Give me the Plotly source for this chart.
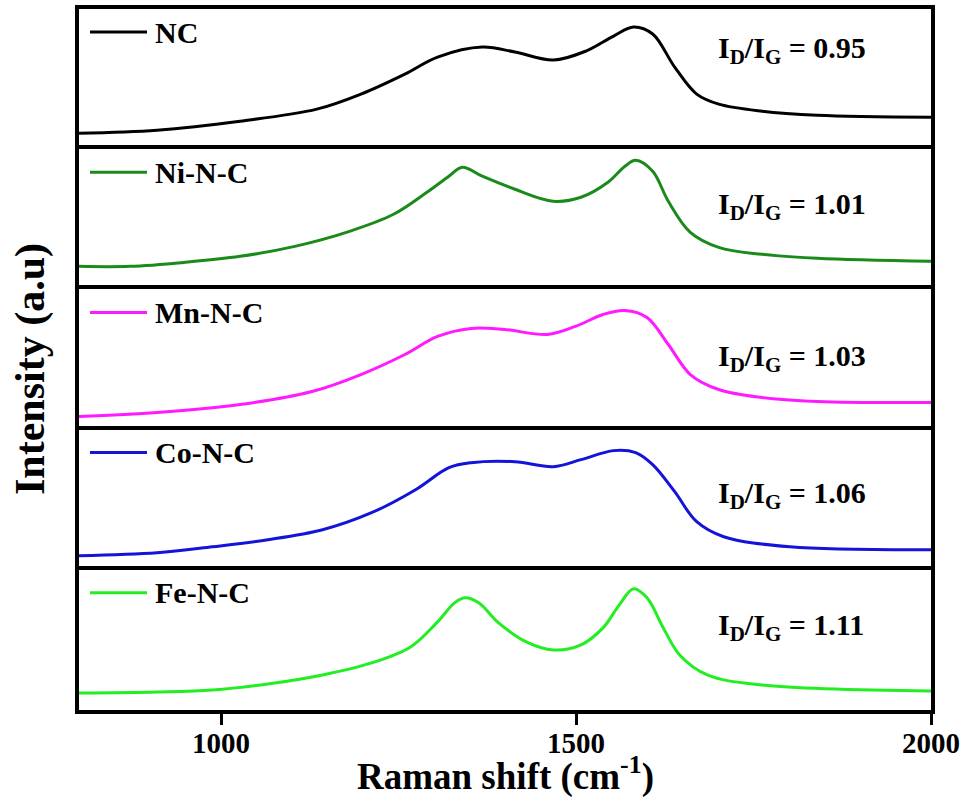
import plotly.graph_objects as go
from plotly.subplots import make_subplots

# ---- data (intensity in arbitrary units, 0-140 per panel) ----
names = ["NC", "Ni-N-C", "Mn-N-C", "Co-N-C", "Fe-N-C"]
ratios = ["0.95", "1.01", "1.03", "1.06", "1.11"]
tick_vals = [1000, 1500, 2000]
tick_text = ["1000", "1500", "2000"]

nc_x = [800, 910, 1027, 1135, 1197, 1259, 1305, 1368, 1414, 1468, 1514, 1553, 1581, 1608, 1639, 1670, 1701, 1762, 1840, 2000]
nc_y = [16, 19, 28, 40, 55, 75, 92, 102, 97, 89, 98, 113, 122, 115, 82, 55, 45, 38, 34, 32]

ni_x = [800, 872, 949, 1027, 1104, 1181, 1243, 1290, 1321, 1340, 1368, 1414, 1468, 1507, 1545, 1569, 1584, 1608, 1630, 1661, 1701, 1762, 1840, 2000]
ni_y = [23, 23, 27, 33, 43, 58, 75, 97, 113, 122, 113, 100, 88, 92, 107, 123, 129, 118, 88, 57, 42, 35, 31, 28]

mn_x = [800, 910, 1027, 1128, 1197, 1259, 1305, 1352, 1399, 1460, 1499, 1538, 1569, 1600, 1630, 1661, 1701, 1762, 1840, 2000]
mn_y = [13, 17, 25, 38, 55, 75, 93, 101, 100, 95, 103, 115, 119, 112, 85, 55, 40, 32, 28, 27]

co_x = [800, 910, 988, 1066, 1143, 1212, 1274, 1321, 1352, 1414, 1468, 1507, 1553, 1584, 1608, 1639, 1670, 1708, 1801, 2000]
co_y = [14, 17, 23, 30, 40, 57, 80, 102, 107, 108, 103, 110, 119, 117, 105, 78, 48, 33, 23, 20]

fe_x = [800, 910, 988, 1066, 1143, 1212, 1267, 1305, 1329, 1344, 1363, 1391, 1430, 1468, 1507, 1538, 1561, 1581, 1600, 1623, 1646, 1685, 1762, 2000]
fe_y = [17, 18, 20, 26, 35, 47, 63, 88, 107, 112, 107, 87, 68, 60, 65, 82, 105, 121, 112, 82, 55, 35, 25, 19]

xs = [nc_x, ni_x, mn_x, co_x, fe_x]
ys = [nc_y, ni_y, mn_y, co_y, fe_y]
colors = ["#000000", "#1a8a1a", "#ff1aff", "#1414d8", "#22ee22"]
ratio_offsets = [39, 55, 67, 63, 55]  # px below panel top

FONT = "Liberation Serif"

fig = make_subplots(rows=5, cols=1, shared_xaxes=True, vertical_spacing=0)

for i in range(5):
    fig.add_trace(
        go.Scatter(x=xs[i], y=ys[i], mode="lines", name=names[i],
                   line=dict(color=colors[i], width=3, shape="spline", smoothing=1.0),
                   showlegend=False),
        row=i + 1, col=1)

W, H = 968, 797
ml, mr, mt, mb = 79, 37, 9, 87
pw = W - ml - mr
plot_h = H - mt - mb
ph = plot_h / 5.0
LW = 4

for i in range(5):
    r = i + 1
    suf = "" if r == 1 else str(r)
    fig.update_yaxes(range=[0, 140], showticklabels=False, ticks="", showgrid=False,
                     zeroline=False, showline=True, mirror=True, linewidth=LW,
                     linecolor="black", row=r, col=1)
    if r < 5:
        fig.update_xaxes(range=[800, 2000], showgrid=False, zeroline=False,
                         showline=True, mirror=False, side="top", linewidth=LW,
                         linecolor="black", ticks="", showticklabels=False,
                         row=r, col=1)
    else:
        fig.update_xaxes(range=[800, 2000], showgrid=False, zeroline=False,
                         showline=True, mirror=True, linewidth=LW, linecolor="black",
                         ticks="outside", ticklen=11, tickwidth=3, tickcolor="black",
                         tickmode="array", tickvals=tick_vals, showticklabels=False,
                         row=r, col=1)
    # legend sample line
    fig.add_shape(type="line", xref=f"x{suf} domain", yref=f"y{suf} domain",
                  x0=(90 - ml) / pw, x1=(147 - ml) / pw,
                  y0=1 - 23 / ph, y1=1 - 23 / ph,
                  line=dict(color=colors[i], width=3))
    fig.add_annotation(xref=f"x{suf} domain", yref=f"y{suf} domain",
                       x=(153 - ml) / pw, y=1 - 23 / ph, xanchor="left", yanchor="middle",
                       text=f"<b>{names[i]}</b>", showarrow=False,
                       font=dict(family=FONT, size=30, color="black"))
    fig.add_annotation(xref=f"x{suf} domain", yref=f"y{suf} domain",
                       x=(716 - ml) / pw, y=1 - (ratio_offsets[i] + 2) / ph,
                       xanchor="left", yanchor="middle",
                       text=f"<b>I<sub>D</sub>/I<sub>G</sub> = {ratios[i]}</b>",
                       showarrow=False,
                       font=dict(family=FONT, size=30, color="black"))

# bold tick labels placed at the tick values of the bottom axis
for v, t in zip(tick_vals, tick_text):
    fig.add_annotation(xref="x5", yref="paper", x=v, y=-(743 - (H - mb)) / plot_h,
                       xanchor="center", yanchor="middle", showarrow=False,
                       text=f"<b>{t}</b>",
                       font=dict(family=FONT, size=29, color="black"))

# axis titles
fig.add_annotation(xref="paper", yref="paper", x=0.5, y=-(774 - (H - mb)) / plot_h,
                   xanchor="center", yanchor="middle", showarrow=False,
                   text="<b>Raman shift (cm<sup>-1</sup>)</b>",
                   font=dict(family=FONT, size=37, color="black"))
fig.add_annotation(xref="paper", yref="paper", x=-(ml - 30) / pw,
                   y=1 - (369 - mt) / plot_h,
                   xanchor="center", yanchor="middle", showarrow=False, textangle=-90,
                   text="<b>Intensity (a.u)</b>",
                   font=dict(family=FONT, size=42, color="black"))

fig.update_layout(width=W, height=H, margin=dict(l=ml, r=mr, t=mt, b=mb),
                  paper_bgcolor="white", plot_bgcolor="white", showlegend=False)

fig.write_html("out.html")
